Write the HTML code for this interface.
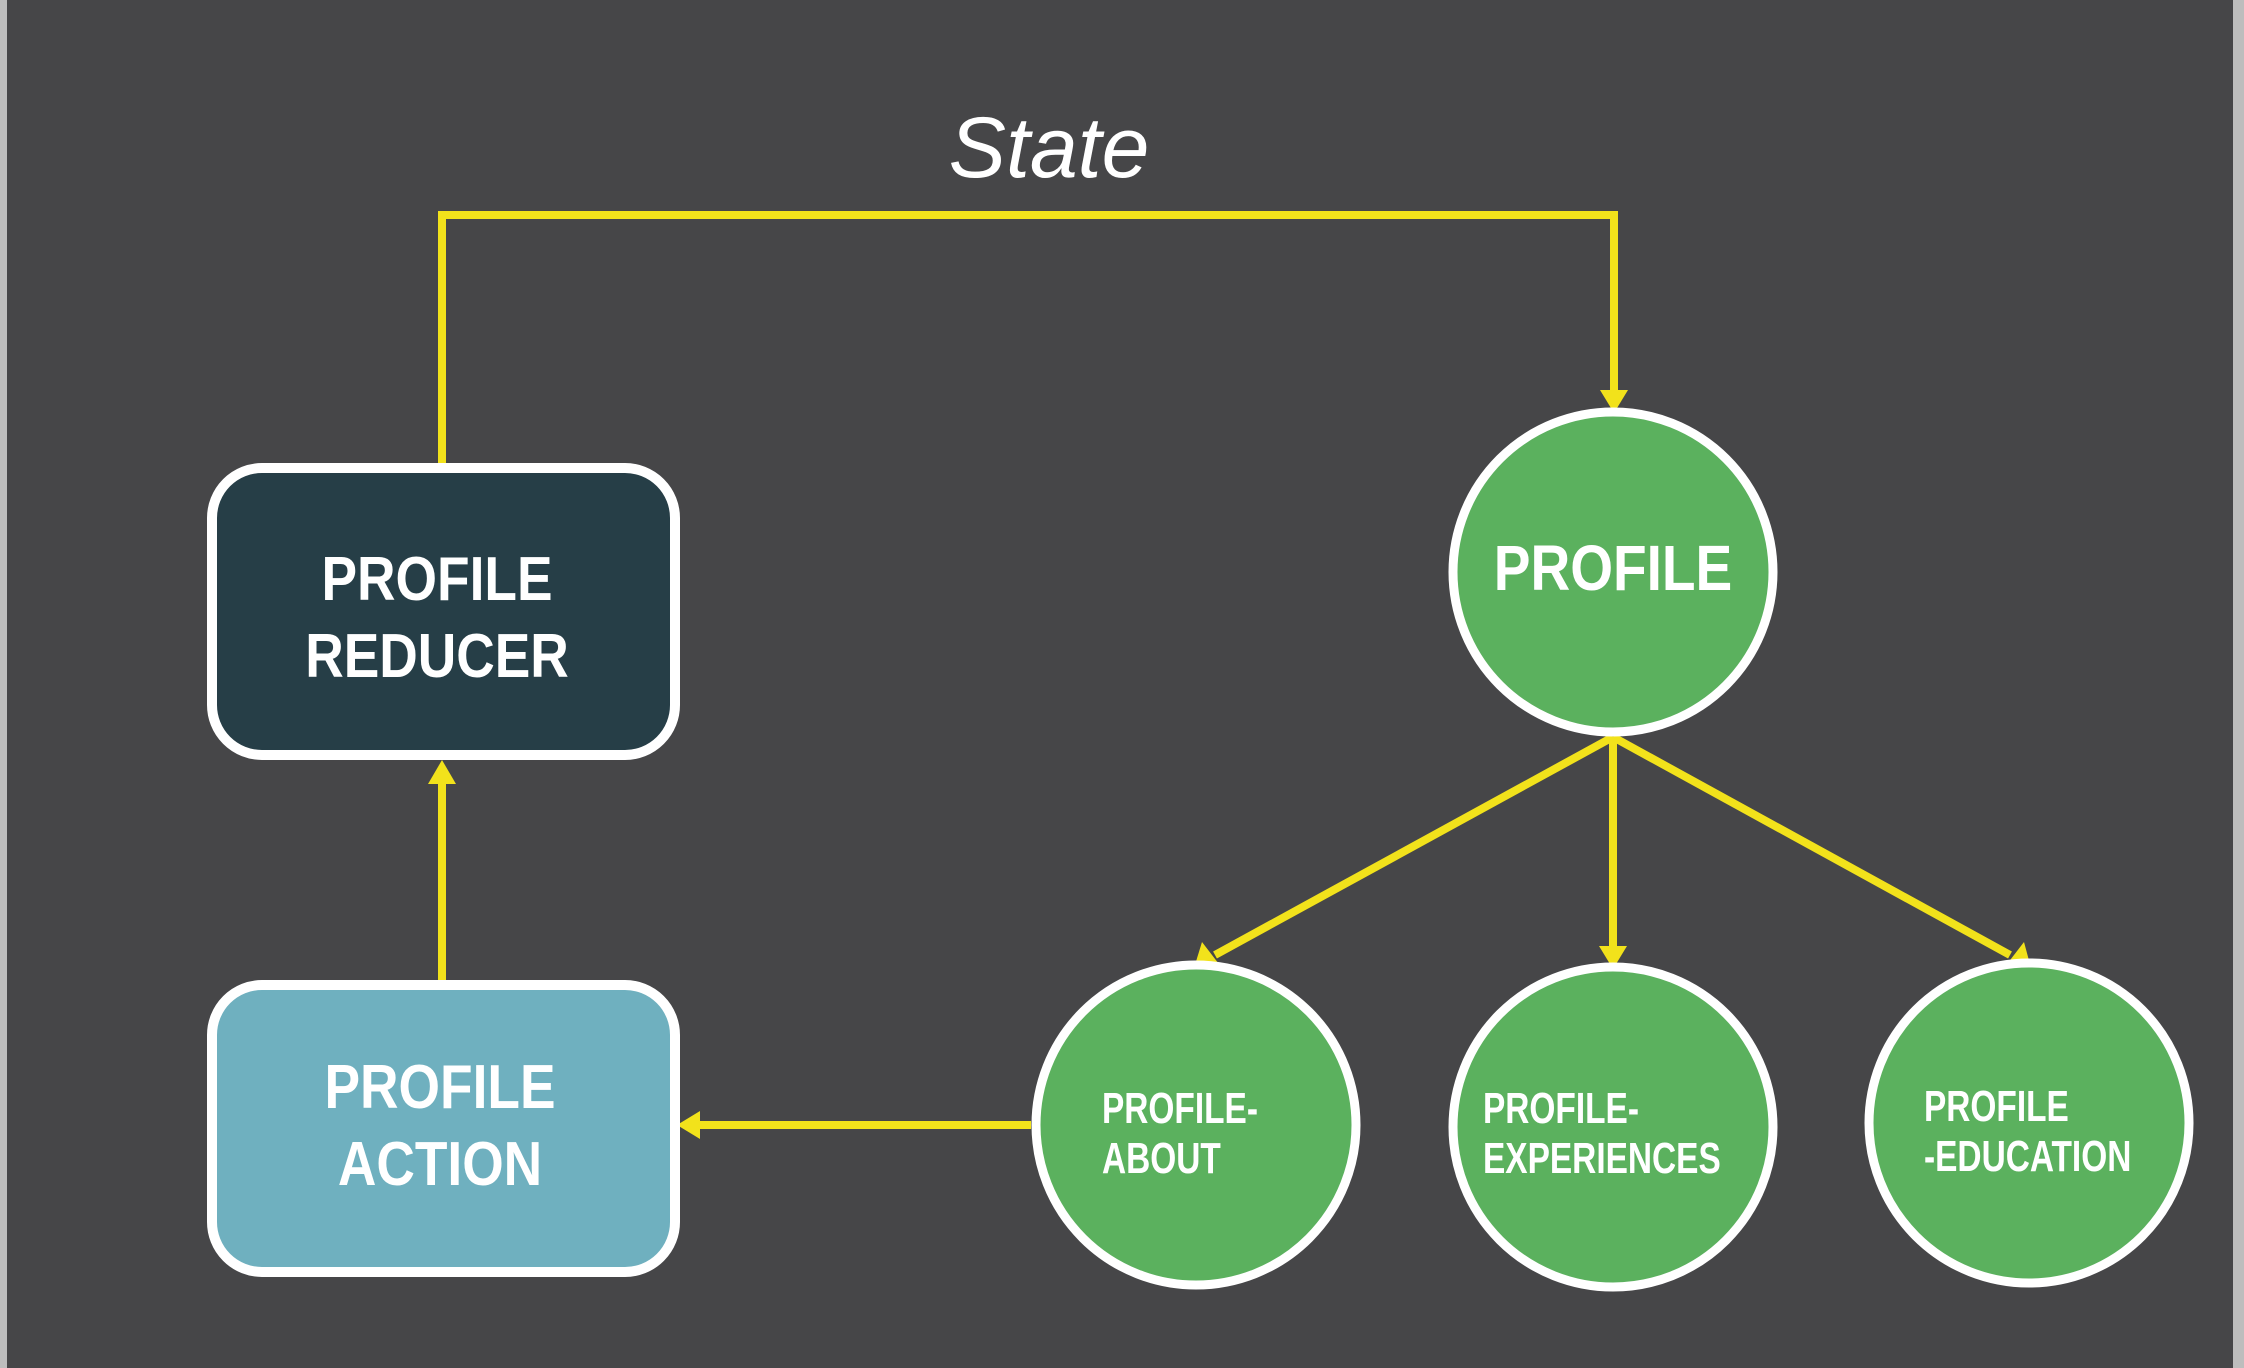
<!DOCTYPE html>
<html><head><meta charset="utf-8"><style>
html,body{margin:0;padding:0;background:#464648;}
body{width:2244px;height:1368px;overflow:hidden;position:relative;}
svg{position:absolute;left:0;top:0;}
</style></head><body>
<svg width="2244" height="1368" viewBox="0 0 2244 1368">
<rect x="0" y="0" width="2244" height="1368" fill="#464648"/>
<rect x="0" y="0" width="7" height="1368" fill="#bdbdbd"/>
<rect x="2233" y="0" width="11" height="1368" fill="#bdbdbd"/>
<text x="1049" y="177" font-family="Liberation Sans, sans-serif" font-style="italic" font-size="86" fill="#ffffff" text-anchor="middle">State</text>
<g stroke="#f2e21b" stroke-width="8" fill="none">
<polyline points="442,463 442,215 1614,215 1614,395"/>
<line x1="442" y1="980" x2="442" y2="780"/>
<line x1="1031" y1="1125" x2="695" y2="1125"/>
<line x1="1613" y1="737" x2="1215" y2="955"/>
<line x1="1613" y1="737" x2="1613" y2="950"/>
<line x1="1613" y1="737" x2="2010" y2="955"/>
</g>
<g fill="#f2e21b">
<polygon points="1600,390 1628,390 1614,413"/>
<polygon points="428,784 456,784 442,760"/>
<polygon points="700,1111 700,1139 677,1125"/>
<polygon points="1599,946 1627,946 1613,969"/>
<polygon points="1202,942 1222,968 1194,968"/>
<polygon points="2004,968 2024,942 2031,968"/>
</g>
<rect x="212" y="468" width="463" height="287" rx="50" fill="#263e47" stroke="#ffffff" stroke-width="10"/>
<rect x="212" y="985" width="463" height="287" rx="50" fill="#6fb0bf" stroke="#ffffff" stroke-width="10"/>
<g fill="#5bb15e" stroke="#ffffff" stroke-width="9">
<circle cx="1613" cy="572" r="160"/>
<circle cx="1196" cy="1125" r="160"/>
<circle cx="1613" cy="1127" r="160"/>
<circle cx="2029" cy="1123" r="160"/>
</g>
<g font-family="Liberation Sans, sans-serif" fill="#ffffff" font-weight="bold">
<text transform="translate(437,600) scale(0.86,1)" font-size="62" text-anchor="middle">PROFILE</text>
<text transform="translate(437,677) scale(0.86,1)" font-size="62" text-anchor="middle">REDUCER</text>
<text transform="translate(440,1108) scale(0.86,1)" font-size="62" text-anchor="middle">PROFILE</text>
<text transform="translate(440,1185) scale(0.86,1)" font-size="62" text-anchor="middle">ACTION</text>
<text transform="translate(1613,590) scale(0.86,1)" font-size="64" text-anchor="middle">PROFILE</text>
</g>
<g font-family="Liberation Sans, sans-serif" fill="#ffffff" font-size="44" font-weight="bold">
<text transform="translate(1102,1123) scale(0.76,1)">PROFILE-</text>
<text transform="translate(1102,1173) scale(0.76,1)">ABOUT</text>
<text transform="translate(1483,1123) scale(0.76,1)">PROFILE-</text>
<text transform="translate(1483,1173) scale(0.76,1)">EXPERIENCES</text>
<text transform="translate(1924,1121) scale(0.76,1)">PROFILE</text>
<text transform="translate(1924,1171) scale(0.76,1)">-EDUCATION</text>
</g>
</svg>
</body></html>
